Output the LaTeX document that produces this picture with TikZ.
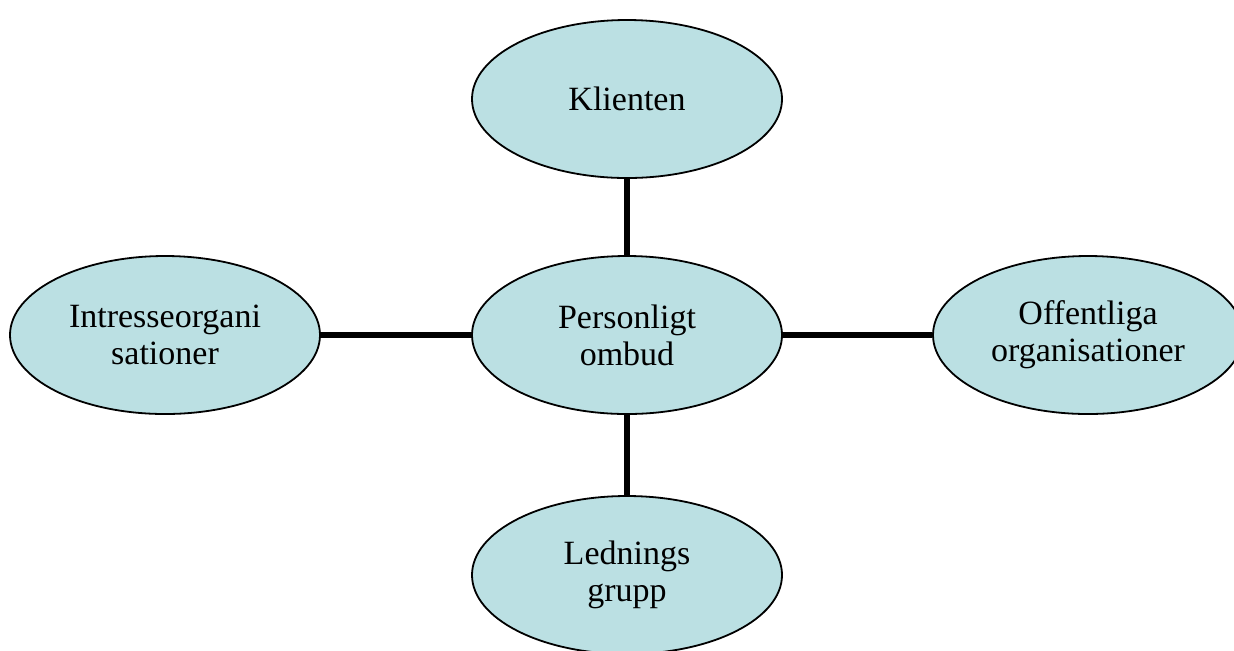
\documentclass[tikz,border=0pt]{standalone}
\usepackage{fontspec}
\setmainfont{Liberation Serif}
\usepackage{xcolor}
\usepackage{tikz}
\usetikzlibrary{shapes.geometric}
\definecolor{ombudBlue}{RGB}{187, 224, 227}
\tikzset{
	roll/.style={ellipse, draw=black, line width=0.9pt, fill=ombudBlue, minimum width=155pt, minimum height=79pt, inner sep=0pt, align=center, font=\fontsize{17}{18.5}\selectfont},
	link/.style={line width=3pt, black}
}

\begin{document}
\begin{tikzpicture}[x=0.5pt, y=-0.5pt]
	\useasboundingbox (0,0) rectangle (1234,650);

	\node[roll] (ombud) at (627,335) {Personligt\\ombud};
	\node[roll] (klient) at (627,99) {Klienten};
	\node[roll] (intresse) at (165,335) {Intresseorgani\\sationer};
	\node[roll] (offentlig) at (1088,335) {Offentliga\\organisationer};
	\node[roll] (ledning) at (627,575) {Lednings\\grupp};

	\draw[link] (klient) -- (ombud);
	\draw[link] (intresse) -- (ombud);
	\draw[link] (ombud) -- (offentlig);
	\draw[link] (ombud) -- (ledning);

\end{tikzpicture}
\end{document}
